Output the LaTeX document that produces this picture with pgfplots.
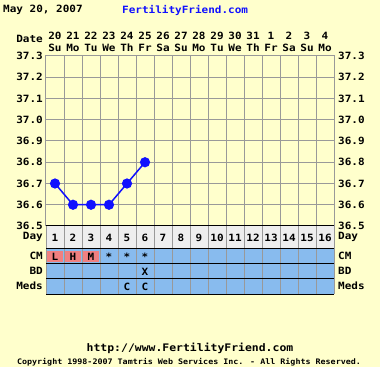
\documentclass[border=0pt]{standalone}
\usepackage{pgfplots}
\pgfplotsset{compat=1.18}
\usepackage{fontspec}
\setmainfont{DejaVu Sans Mono}[FakeStretch=1.1]
\definecolor{bgc}{HTML}{FFFFCC}
\definecolor{dayc}{HTML}{EEEEEE}
\definecolor{cmc}{HTML}{88BBEE}
\definecolor{redc}{HTML}{F08080}
\definecolor{gridc}{HTML}{999999}
\definecolor{ffblue}{HTML}{1010FF}
\newcommand\ff{\fontsize{10}{12}\selectfont\bfseries}
\newcommand\fs{\fontsize{7.6}{9}\selectfont\bfseries}
\begin{document}
\begin{tikzpicture}[x=1pt,y=1pt]
\useasboundingbox (0,0) rectangle (380,367);
\fill[bgc] (0,0) rectangle (380,367);
% header
\node[anchor=west,inner sep=0pt,font=\ff] at (3,357) {May 20, 2007};
\node[anchor=west,inner sep=0pt,font=\ff,text=ffblue] at (122,357) {FertilityFriend.com};
\node[anchor=east,inner sep=0pt,font=\ff] at (43,328) {Date};
% temperature axis
\begin{axis}[
  at={(46pt,141pt)}, anchor=south west, scale only axis,
  width=288pt, height=170pt,
  xmin=0.5, xmax=16.5, ymin=36.5, ymax=37.3,
  xtick={1,...,16},
  xticklabels={{20\\Su},{21\\Mo},{22\\Tu},{23\\We},{24\\Th},{25\\Fr},{26\\Sa},{27\\Su},{28\\Mo},{29\\Tu},{30\\We},{31\\Th},{1\\Fr},{2\\Sa},{3\\Su},{4\\Mo}},
  xticklabel pos=top,
  xticklabel style={align=center,font=\ff,inner sep=0pt,yshift=4pt},
  minor xtick={0.5,1.5,...,16.5},
  ytick={36.5,36.6,36.7,36.8,36.9,37.0,37.1,37.2,37.3},
  yticklabel style={font=\ff,inner sep=0pt,xshift=-3pt},
  /pgf/number format/assume math mode=true,
  /pgf/number format/.cd, fixed, fixed zerofill, precision=1, /pgfplots/.cd,
  xminorgrids=true, ymajorgrids=true,
  grid style={gridc, line width=1pt},
  minor grid style={gridc, line width=1pt},
  major tick length=0pt, minor tick length=0pt,
  axis line style={gridc, line width=1pt},
  clip=false,
]
\addplot[ffblue, line width=1.5pt, mark=*, mark size=4.3pt] coordinates {(1,36.7)(2,36.6)(3,36.6)(4,36.6)(5,36.7)(6,36.8)};
\end{axis}
% right labels
\begin{axis}[
  at={(46pt,141pt)}, anchor=south west, scale only axis,
  width=288pt, height=170pt,
  xmin=0.5, xmax=16.5, ymin=36.5, ymax=37.3,
  xtick=\empty,
  ytick={36.5,36.6,36.7,36.8,36.9,37.0,37.1,37.2,37.3},
  yticklabel pos=right,
  yticklabel style={font=\ff,inner sep=0pt,xshift=4pt},
  /pgf/number format/assume math mode=true,
  /pgf/number format/.cd, fixed, fixed zerofill, precision=1, /pgfplots/.cd,
  major tick length=0pt,
  axis line style={draw=none},
]
\end{axis}
% table
\begin{axis}[
  at={(46pt,73pt)}, anchor=south west, scale only axis,
  width=288pt, height=68pt,
  xmin=0.5, xmax=16.5, ymin=0, ymax=68,
  xtick=\empty, ytick=\empty,
  axis line style={draw=none},
  clip=false,
]
\fill[dayc] (axis cs:0.5,45) rectangle (axis cs:16.5,68);
\fill[cmc] (axis cs:0.5,0) rectangle (axis cs:16.5,45);
\pgfplotsinvokeforeach{1,2,3}{
  \fill[redc] (axis cs:#1-0.42,32) rectangle (axis cs:#1+0.42,43);
}
\pgfplotsinvokeforeach{0,...,16}{
  \draw[gridc, line width=1pt] (axis cs:#1.5,0) -- (axis cs:#1.5,68);
}
\draw[gridc, line width=1pt] (axis cs:0.5,0) -- (axis cs:0.5,68);
\pgfplotsinvokeforeach{0,15,30,45,68}{
  \draw[black, line width=1pt] (axis cs:0.5,#1) -- (axis cs:16.5,#1);
}
\pgfplotsinvokeforeach{1,...,16}{
  \node[font=\ff,inner sep=0pt] at (axis cs:#1,56.5) {#1};
}
\node[font=\ff,inner sep=0pt] at (axis cs:1,37.5) {L};
\node[font=\ff,inner sep=0pt] at (axis cs:2,37.5) {H};
\node[font=\ff,inner sep=0pt] at (axis cs:3,37.5) {M};
\node[font=\ff,inner sep=0pt] at (axis cs:4,37.5) {*};
\node[font=\ff,inner sep=0pt] at (axis cs:5,37.5) {*};
\node[font=\ff,inner sep=0pt] at (axis cs:6,37.5) {*};
\node[font=\ff,inner sep=0pt] at (axis cs:6,22.5) {X};
\node[font=\ff,inner sep=0pt] at (axis cs:5,7.5) {C};
\node[font=\ff,inner sep=0pt] at (axis cs:6,7.5) {C};
\end{axis}
% row labels
\foreach \lab/\yy in {Day/130,CM/111,BD/96,Meds/81}{
  \node[anchor=east,inner sep=0pt,font=\ff] at (43,\yy) {\lab};
  \node[anchor=west,inner sep=0pt,font=\ff] at (338,\yy) {\lab};
}
% footer
\node[inner sep=0pt,font=\fontsize{10.4}{12}\selectfont\bfseries] at (190,19) {http://www.FertilityFriend.com};
\node[inner sep=0pt,font=\fs] at (189,5) {Copyright 1998-2007 Tamtris Web Services Inc. - All Rights Reserved.};
\end{tikzpicture}
\end{document}
